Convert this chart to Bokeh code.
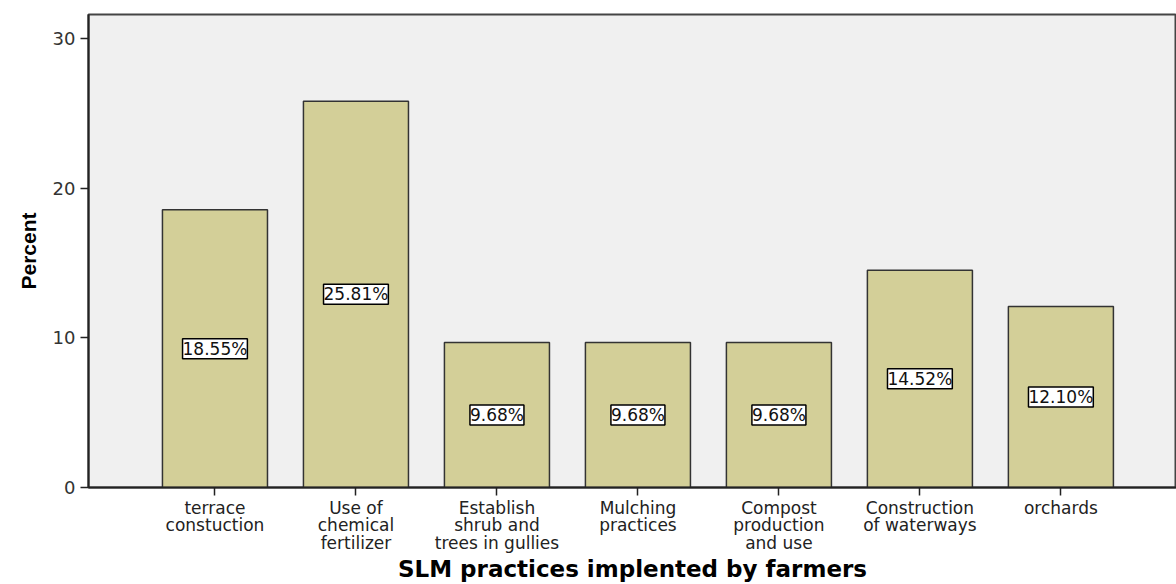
from bokeh.plotting import figure
from bokeh.models import ColumnDataSource, LabelSet, FixedTicker, Range1d
from bokeh.core.properties import value
from bokeh.embed import file_html
from bokeh.resources import INLINE

categories = [
    "terrace\nconstuction",
    "Use of\nchemical\nfertilizer",
    "Establish\nshrub and\ntrees in gullies",
    "Mulching\npractices",
    "Compost\nproduction\nand use",
    "Construction\nof waterways",
    "orchards",
]
percent = [18.55, 25.81, 9.68, 9.68, 9.68, 14.52, 12.10]
y_ticks = [0, 10, 20, 30]

xs = list(range(1, len(categories) + 1))
src = ColumnDataSource(dict(
    x=xs,
    top=percent,
    mid=[v / 2 for v in percent],
    lab=["%.2f%%" % v for v in percent],
))

FONT = "DejaVu Sans"

p = figure(width=1176, height=584, output_backend="svg", toolbar_location=None,
           x_range=Range1d(0.103, 7.82), y_range=Range1d(0, 31.6),
           min_border_left=88, min_border_right=0, min_border_top=14, min_border_bottom=97)

p.background_fill_color = "#f0f0f0"
p.border_fill_color = "white"
p.outline_line_color = "#444444"
p.outline_line_width = 2
p.grid.visible = False

p.vbar(x="x", top="top", bottom=0, width=0.745, source=src,
       fill_color="#d3cf98", line_color="#333333", line_width=1.5)

labels = LabelSet(x="x", y="mid", text="lab", source=src,
                  text_align="center", text_baseline="middle",
                  text_font=value(FONT), text_font_size="17px", text_color="#111111",
                  background_fill_color="white", border_line_color="black",
                  border_line_width=1.5)
p.add_layout(labels)

# x axis
p.xaxis.ticker = FixedTicker(ticks=xs)
p.xaxis.major_label_overrides = {x: c for x, c in zip(xs, categories)}
p.xaxis.minor_tick_line_color = None
p.xaxis.major_tick_in = 0
p.xaxis.major_tick_out = 8
p.xaxis.major_tick_line_color = "#222222"
p.xaxis.major_tick_line_width = 1.5
p.xaxis.axis_line_color = "#222222"
p.xaxis.axis_line_width = 2
p.xaxis.major_label_text_font = FONT
p.xaxis.major_label_text_font_size = "17px"
p.xaxis.major_label_text_color = "#222222"
p.xaxis.major_label_text_line_height = 0.88
p.xaxis.major_label_standoff = 2
p.xaxis.axis_label = "SLM practices implented by farmers"
p.xaxis.axis_label_text_font = FONT
p.xaxis.axis_label_text_font_style = "bold"
p.xaxis.axis_label_text_font_size = "23px"
p.xaxis.axis_label_text_color = "black"
p.xaxis.axis_label_text_line_height = 1.0
p.xaxis.axis_label_standoff = 0

# y axis
p.yaxis.ticker = FixedTicker(ticks=y_ticks)
p.yaxis.minor_tick_line_color = None
p.yaxis.major_tick_in = 0
p.yaxis.major_tick_out = 8
p.yaxis.major_tick_line_color = "#222222"
p.yaxis.major_tick_line_width = 1.5
p.yaxis.axis_line_color = "#222222"
p.yaxis.axis_line_width = 2
p.yaxis.major_label_text_font = FONT
p.yaxis.major_label_text_font_size = "18px"
p.yaxis.major_label_text_color = "#333333"
p.yaxis.major_label_standoff = 5
p.yaxis.axis_label = "Percent"
p.yaxis.axis_label_text_font = "Liberation Sans"
p.yaxis.axis_label_text_font_style = "bold"
p.yaxis.axis_label_text_font_size = "21px"
p.yaxis.axis_label_text_color = "black"
p.yaxis.axis_label_standoff = 10

open("out.html", "w").write(file_html(p, INLINE))
